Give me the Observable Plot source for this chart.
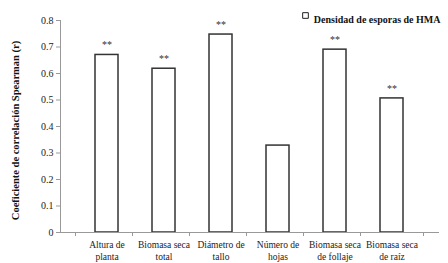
<!DOCTYPE html>
<html><head><meta charset="utf-8">
<script src="https://cdn.jsdelivr.net/npm/d3@7"></script>
<script src="https://cdn.jsdelivr.net/npm/@observablehq/plot@0.6"></script>
<style>body{margin:0;background:#fff}</style>
</head><body><div id="chart"></div>
<script>
const categories = ["Altura de\nplanta","Biomasa seca\ntotal","Diámetro de\ntallo","Número de\nhojas","Biomasa seca\nde follaje","Biomasa seca\nde raíz"];
const values = [0.67, 0.618, 0.747, 0.328, 0.69, 0.506];
const signif = ["**","**","**","","**","**"];
const yTicks = [0,0.1,0.2,0.3,0.4,0.5,0.6,0.7,0.8];
const legendLabel = "Densidad de esporas de HMA";
const yLabel = "Coeficiente de correlación Spearman (r)";

const data = categories.map((c,i)=>({c, v: values[i], s: signif[i]}));
const font = "'Liberation Serif', 'DejaVu Serif', serif";
const band = (448-60-10)/categories.length;

const chart = Plot.plot({
  width: 448, height: 263,
  marginLeft: 60, marginRight: 10, marginTop: 20, marginBottom: 31,
  style: {fontFamily: font, fontSize: "10px", color: "#222", background: "#fff"},
  x: {domain: categories, padding: 0.59, label: null},
  y: {domain: [0, 0.8], label: null},
  marks: [
    Plot.barY(data, {x: "c", y: "v", fill: "white", stroke: "#333", strokeWidth: 1.5}),
    Plot.text(data, {x: "c", y: "v", text: "s", dy: -10, fontSize: 10, fill: "#333"}),
    Plot.frame({anchor: "left", stroke: "#999"}),
    Plot.frame({anchor: "bottom", stroke: "#999"}),
    Plot.axisY({ticks: yTicks, tickFormat: d => d === 0 ? "0" : d3.format(".1f")(d), tickSize: 4, tickPadding: 3, stroke: "#999", label: null}),
    Plot.axisX({tickSize: 0, tickPadding: 6, label: null, lineHeight: 1.35, fontSize: 9.5}),
    Plot.axisX({tickSize: 4, tickFormat: () => "", dx: -band/2, stroke: "#999", label: null}),
    Plot.axisX([categories[categories.length-1]], {tickSize: 4, tickFormat: () => "", dx: band/2, stroke: "#999", label: null}),
    Plot.text([yLabel], {frameAnchor: "left", textAnchor: "middle", rotate: -90, dx: -45, dy: 4, fontWeight: "bold", fontSize: 10.5, fill: "#111"}),
    Plot.text([legendLabel], {frameAnchor: "top-right", textAnchor: "end", dx: 2, dy: -5, fontWeight: "bold", fontSize: 10, fill: "#111"}),
    Plot.dot([0], {frameAnchor: "top-right", dx: -133, dy: -5, symbol: "square", r: 3.2, stroke: "#222", fill: "white", strokeWidth: 1})
  ]
});
document.getElementById("chart").append(chart);
</script></body></html>
